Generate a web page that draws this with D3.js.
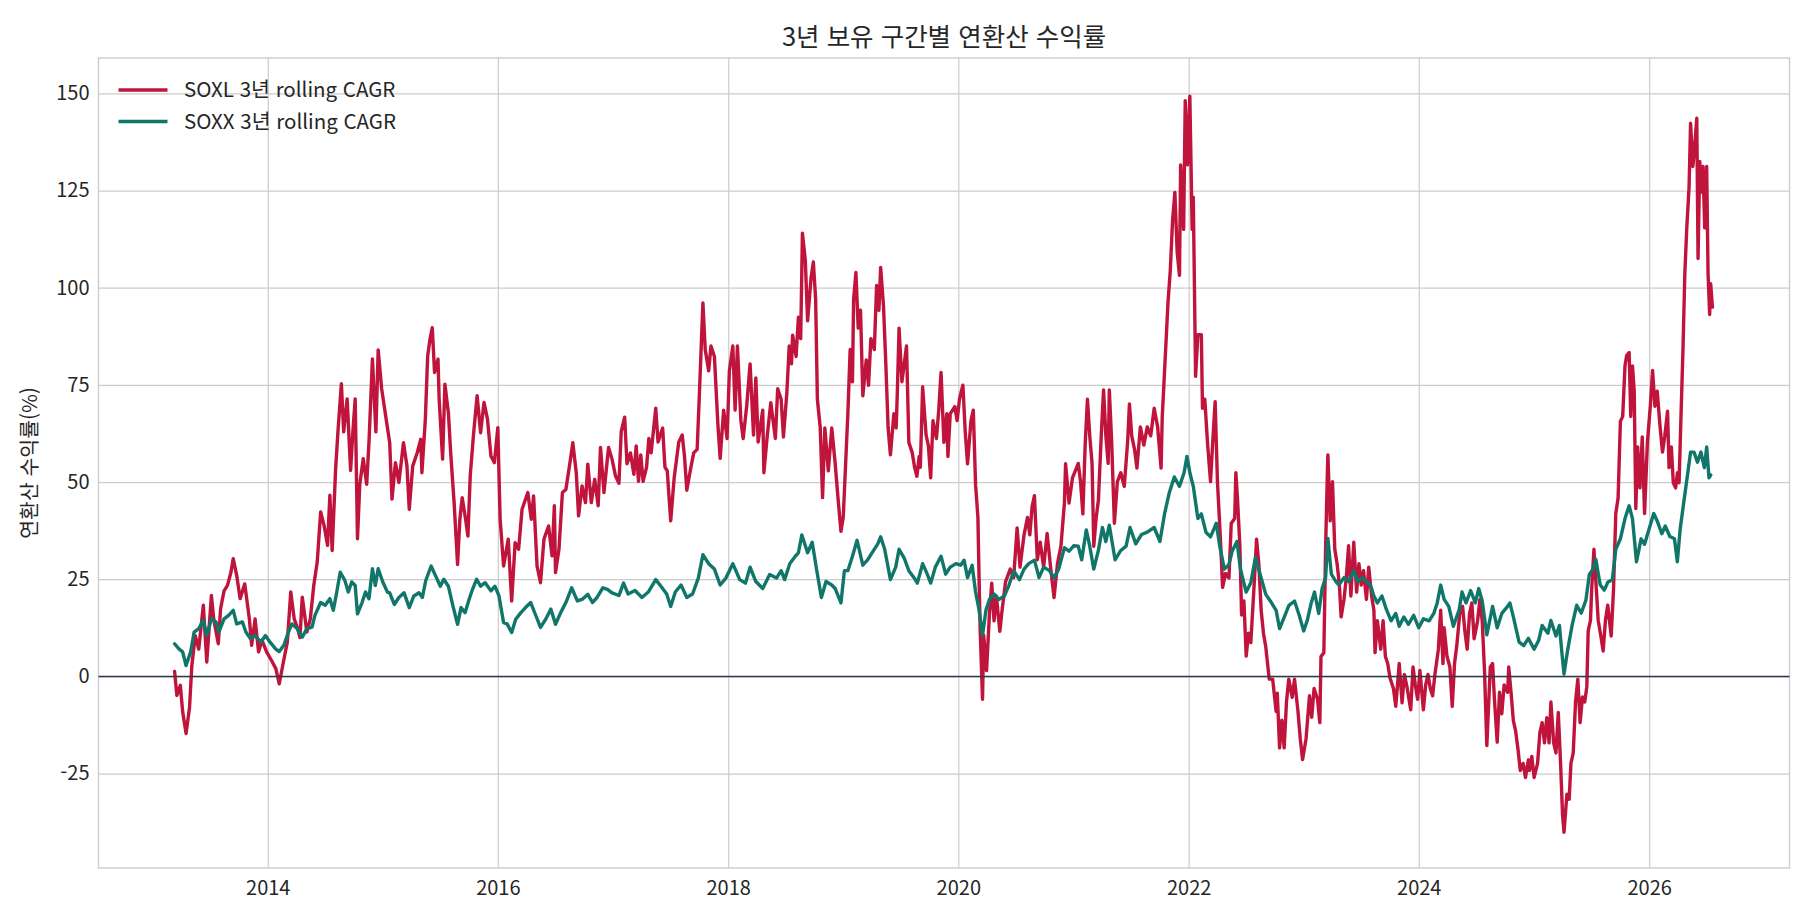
<!DOCTYPE html>
<html lang="ko">
<head>
  <meta charset="UTF-8">
  <title>3년 보유 구간별 연환산 수익률</title>
  <script src="https://d3js.org/d3.v7.min.js"></script>
  <style>
    body { margin: 0; background: #fff; }
    svg text { font-family: "Noto Sans CJK KR", "Noto Sans", sans-serif; fill: #262626; }
  </style>
</head>
<body>
  <div id="root"></div>
  <script>
    // [decimal year, 3y rolling CAGR %]
    const soxl = [
      [2013.19,1.3],[2013.21,-4.9],[2013.24,-2.3],[2013.26,-9],[2013.29,-14.7],[2013.32,-8],[2013.34,2.8],[2013.37,10.5],[2013.40,7],[2013.44,18.3],[2013.47,3.7],[2013.51,20.8],[2013.53,14.8],[2013.57,8.4],[2013.59,17.4],[2013.62,22],[2013.65,23.4],[2013.68,26.8],[2013.70,30.3],[2013.73,26],[2013.76,20],[2013.80,23.8],[2013.84,14.8],[2013.86,8],[2013.89,14.8],[2013.92,6.3],[2013.95,9.3],[2013.99,6.3],
      [2014.04,3.7],[2014.07,2],[2014.10,-1.9],[2014.13,2.8],[2014.17,8.8],[2014.20,21.7],[2014.23,14.8],[2014.26,12.3],[2014.28,10],[2014.30,20.4],[2014.34,11.4],[2014.37,14.8],[2014.40,23.4],[2014.43,29.4],[2014.46,42.3],[2014.49,38.8],[2014.52,33.7],[2014.54,46.6],[2014.56,32.4],[2014.59,53.4],[2014.61,62.9],[2014.64,75.3],[2014.66,62.9],[2014.69,71.4],[2014.72,53],[2014.74,62.9],[2014.76,71.4],[2014.78,35.4],[2014.80,49.4],[2014.83,56],[2014.86,49.4],[2014.88,60.3],[2014.91,81.7],[2014.94,62.9],[2014.96,84],[2014.99,74],[2015.02,68],
      [2015.06,60.1],[2015.08,45.6],[2015.11,55],[2015.14,49.9],[2015.18,60.1],[2015.21,54.1],[2015.23,43],[2015.26,54.1],[2015.30,57.6],[2015.33,61],[2015.34,52.4],[2015.37,66.2],[2015.39,82.4],[2015.41,86.7],[2015.43,89.7],[2015.45,78.2],[2015.48,81.6],[2015.49,71.3],[2015.52,55.9],[2015.54,75.2],[2015.57,67.9],[2015.59,57.6],[2015.62,44.7],[2015.65,28.8],[2015.67,40.4],[2015.69,46],[2015.72,40.4],[2015.74,36.1],[2015.76,51.6],[2015.79,62.7],[2015.82,72.2],[2015.85,62.7],[2015.88,70.5],[2015.91,66.2],[2015.94,56.7],[2015.97,55],
      [2016.00,64],[2016.02,40.4],[2016.05,28.4],[2016.09,35.3],[2016.12,19.4],[2016.15,34.4],[2016.18,32.7],[2016.21,43],[2016.26,47.3],[2016.29,40.4],[2016.31,46.4],[2016.34,28.4],[2016.37,24.1],[2016.40,35.3],[2016.44,38.7],[2016.47,31],[2016.49,43.9],[2016.50,26.7],[2016.53,32.7],[2016.56,47.3],[2016.59,48.1],[2016.63,55.9],[2016.65,60.1],[2016.68,52.4],[2016.70,41.3],[2016.73,49],[2016.76,44.7],[2016.78,54.6],[2016.81,44.7],[2016.84,50.7],[2016.87,43.9],[2016.89,58.9],[2016.92,47.3],[2016.96,58.9],[2016.99,55.9],[2017.02,51.6],
      [2017.05,49.7],[2017.07,63],[2017.10,66.7],[2017.12,54.7],[2017.15,57.5],[2017.18,52],[2017.20,59.3],[2017.22,50.2],[2017.24,57],[2017.26,50.2],[2017.29,53.8],[2017.31,61.2],[2017.33,57.5],[2017.37,69],[2017.39,60.3],[2017.43,63.9],[2017.45,53.8],[2017.47,52.9],[2017.50,40],[2017.53,51],[2017.57,60.3],[2017.60,62.1],[2017.62,56.6],[2017.64,47.9],[2017.67,52.9],[2017.70,57.5],[2017.73,58.4],[2017.75,73.1],[2017.78,96.1],[2017.80,84.1],[2017.83,78.6],[2017.85,85],[2017.88,82.3],[2017.91,64.9],[2017.93,56.1],[2017.96,68.5],[2017.99,61.2],
      [2018.01,78.6],[2018.04,85],[2018.06,68.5],[2018.08,85],[2018.11,65.8],[2018.13,61.2],[2018.16,69.4],[2018.19,80.4],[2018.22,62.1],[2018.24,76.8],[2018.26,60.3],[2018.30,68.5],[2018.31,52.4],[2018.34,62.1],[2018.37,70.4],[2018.41,61.2],[2018.43,74],[2018.46,71.3],[2018.48,61.6],[2018.51,73.1],[2018.53,85],[2018.55,80.4],[2018.56,87.8],[2018.59,82.3],[2018.61,92.4],[2018.63,86.9],[2018.645,114],[2018.67,107.1],[2018.69,91.5],[2018.72,102.5],[2018.74,106.6],[2018.76,97],[2018.775,71.3],[2018.80,63.9],[2018.82,46],[2018.84,63.9],[2018.87,52.9],[2018.90,63.9],[2018.93,54.7],[2018.955,45.6],[2018.98,37.3],[2019.00,41],
      [2019.04,67.6],[2019.06,84.1],[2019.08,75.8],[2019.09,97],[2019.11,103.9],[2019.13,89.6],[2019.15,94.2],[2019.17,72.2],[2019.20,81.4],[2019.22,74.9],[2019.24,86.9],[2019.27,84.1],[2019.29,100.6],[2019.31,94.2],[2019.325,105.2],[2019.35,95.2],[2019.37,80.4],[2019.39,63.9],[2019.41,57],[2019.44,67.6],[2019.46,63.9],[2019.47,73.1],[2019.485,89.6],[2019.51,75.8],[2019.53,80.4],[2019.55,85],[2019.57,60.2],[2019.60,57.5],[2019.62,53.8],[2019.64,51.5],[2019.66,56.6],[2019.67,53.8],[2019.69,74.5],[2019.72,62.1],[2019.74,59.3],[2019.76,51.1],[2019.78,65.8],[2019.81,61.2],[2019.83,68.5],[2019.85,78.2],[2019.875,60.2],[2019.90,67.6],[2019.91,56.6],[2019.93,67.6],[2019.97,69.4],[2019.99,65.8],
      [2020.01,71.3],[2020.04,74.9],[2020.06,63],[2020.08,54.7],[2020.11,65.8],[2020.13,68.5],[2020.15,49.2],[2020.17,40.9],[2020.18,25.4],[2020.19,11.6],[2020.21,-5.9],[2020.22,10.6],[2020.245,1.5],[2020.27,16.1],[2020.29,24],[2020.31,14.3],[2020.33,20.7],[2020.36,11.6],[2020.38,17.1],[2020.41,24.4],[2020.45,27.6],[2020.48,25.4],[2020.51,38.2],[2020.535,28.1],[2020.57,36.4],[2020.60,40.9],[2020.62,36.4],[2020.64,43.7],[2020.66,46.5],[2020.685,30],[2020.71,34.5],[2020.74,28.1],[2020.77,36.8],[2020.80,28.1],[2020.83,20.3],[2020.86,29],[2020.89,33.6],[2020.92,44.6],[2020.93,54.7],[2020.96,44.6],[2020.99,51.1],
      [2021.04,54.8],[2021.06,50.1],[2021.08,41.8],[2021.10,59.5],[2021.12,71.3],[2021.14,61.9],[2021.16,54.8],[2021.175,33.5],[2021.195,40.6],[2021.215,45.3],[2021.24,61.9],[2021.26,73.7],[2021.28,61.9],[2021.30,54.8],[2021.31,73.7],[2021.33,60.7],[2021.354,39.4],[2021.38,50.1],[2021.41,52.4],[2021.44,48.9],[2021.47,60.7],[2021.485,70.1],[2021.505,61.9],[2021.53,58.3],[2021.55,53.6],[2021.58,64.2],[2021.61,59.5],[2021.64,64.2],[2021.67,61.9],[2021.70,69],[2021.73,64.2],[2021.76,53.6],[2021.77,66.6],[2021.79,78.4],[2021.82,96.1],[2021.84,104.4],[2021.86,117.4],[2021.88,124.5],[2021.90,109.1],[2021.92,103.2],[2021.93,131.6],[2021.956,115],[2021.97,148.1],[2021.99,131.6],
      [2022.01,149.3],[2022.03,115],[2022.04,123.3],[2022.06,77.2],[2022.08,87.9],[2022.11,87.9],[2022.12,69],[2022.14,71.3],[2022.165,59.5],[2022.19,50.1],[2022.21,60.7],[2022.23,70.7],[2022.25,50.1],[2022.275,35.9],[2022.295,22.9],[2022.32,26.5],[2022.35,25.3],[2022.37,39.4],[2022.40,40.6],[2022.41,52.4],[2022.425,45.3],[2022.445,33.5],[2022.46,15.8],[2022.48,19.4],[2022.50,5.2],[2022.52,11.1],[2022.54,8.7],[2022.57,24.1],[2022.59,35.3],[2022.61,28.8],[2022.63,17],[2022.65,11.1],[2022.67,7.6],[2022.70,-0.7],[2022.73,-0.7],[2022.76,-9],[2022.77,-4.3],[2022.79,-18.4],[2022.81,-11.3],[2022.83,-18.4],[2022.85,-6.6],[2022.87,-0.7],[2022.90,-5.4],[2022.92,-0.7],[2022.95,-9],[2022.97,-16.1],[2022.99,-21.4],[2023.02,-16.1],
      [2023.05,-5],[2023.07,-10.5],[2023.09,-3.1],[2023.12,-5.9],[2023.14,-11.9],[2023.15,5.1],[2023.175,6.1],[2023.19,32.7],[2023.20,45.6],[2023.21,57],[2023.23,40],[2023.25,50.1],[2023.27,32.7],[2023.29,29],[2023.31,23.5],[2023.325,15.3],[2023.35,19.8],[2023.37,25.4],[2023.39,33.6],[2023.41,20.7],[2023.435,34.5],[2023.46,21.7],[2023.48,29],[2023.50,23.5],[2023.52,27.2],[2023.545,19.8],[2023.565,28.1],[2023.59,20.7],[2023.61,17],[2023.62,6.1],[2023.64,14.3],[2023.67,7],[2023.69,14.3],[2023.71,5.1],[2023.73,3.3],[2023.75,-0.4],[2023.78,-3.1],[2023.80,-7.7],[2023.82,-0.4],[2023.83,3.3],[2023.855,-6.8],[2023.875,0.5],[2023.90,-3.1],[2023.93,-8.6],[2023.95,2.4],[2023.97,-2.2],[2023.99,-5.9],
      [2024.01,1.5],[2024.04,-8.6],[2024.06,-2.2],[2024.08,0.5],[2024.10,-3.1],[2024.12,-5],[2024.14,0.5],[2024.17,7],[2024.19,17],[2024.21,3.3],[2024.22,12.5],[2024.245,5.1],[2024.27,2.4],[2024.29,-7.7],[2024.31,3.3],[2024.33,8],[2024.355,16.1],[2024.38,18],[2024.40,11.6],[2024.42,7],[2024.44,16.1],[2024.46,18.9],[2024.48,9.7],[2024.51,14.3],[2024.53,19.8],[2024.55,14.3],[2024.57,1.5],[2024.59,-17.8],[2024.62,2.4],[2024.64,3.3],[2024.656,-5.9],[2024.68,-16.9],[2024.70,-4.1],[2024.72,-9.6],[2024.74,-2.2],[2024.77,-4.1],[2024.78,2.4],[2024.80,-4.1],[2024.82,-11.4],[2024.84,-14.1],[2024.86,-18.7],[2024.88,-24.2],[2024.905,-22.4],[2024.925,-26],[2024.95,-21.5],[2024.96,-24.2],[2024.98,-20.6],[2025.00,-26],[2025.03,-22.4],
      [2025.05,-14.5],[2025.07,-11.9],[2025.09,-17.1],[2025.11,-10.6],[2025.13,-17.1],[2025.146,-6.6],[2025.17,-17.1],[2025.19,-19.7],[2025.21,-9.3],[2025.23,-22.4],[2025.247,-35.5],[2025.26,-40.1],[2025.285,-30.3],[2025.305,-31.6],[2025.32,-22.4],[2025.34,-19.7],[2025.36,-6.6],[2025.38,-0.7],[2025.40,-11.9],[2025.42,-5.3],[2025.44,-6.6],[2025.458,-2.7],[2025.47,11.7],[2025.49,14.4],[2025.50,22.2],[2025.52,32.7],[2025.536,24.9],[2025.557,14.4],[2025.58,10.4],[2025.60,6.5],[2025.62,14.4],[2025.64,18.3],[2025.67,10.4],[2025.69,22.2],[2025.71,41.9],[2025.73,45.9],[2025.75,65.6],[2025.77,66.9],[2025.79,79.9],[2025.805,82.6],[2025.826,83.3],[2025.84,66.9],[2025.855,79.9],[2025.87,73.4],[2025.884,43.2],[2025.90,59],[2025.92,48.5],[2025.94,61.6],[2025.96,41.9],[2025.985,60.3],
      [2026.01,69.5],[2026.03,78.7],[2026.05,69.5],[2026.07,73.4],[2026.095,64.2],[2026.116,57.7],[2026.135,61.6],[2026.16,68.2],[2026.173,53.7],[2026.193,59],[2026.21,49.8],[2026.23,48.5],[2026.246,52.4],[2026.26,49.8],[2026.274,64.2],[2026.295,85.2],[2026.31,103.6],[2026.327,115.4],[2026.347,125.9],[2026.36,142.3],[2026.38,131.2],[2026.396,136.4],[2026.414,143.6],[2026.425,107.5],[2026.44,132.5],[2026.454,124.6],[2026.468,131.2],[2026.483,115.4],[2026.50,131.2],[2026.512,103.6],[2026.526,93.1],[2026.535,101],[2026.55,95]
    ]

    const soxx = [
      [2013.19,8.4],[2013.23,7],[2013.26,6.3],[2013.29,2.8],[2013.33,6.3],[2013.36,11.4],[2013.40,12.3],[2013.44,14.4],[2013.47,10.5],[2013.51,14.8],[2013.55,14],[2013.575,11.4],[2013.62,14.8],[2013.66,15.7],[2013.70,17],[2013.73,13.5],[2013.78,14],[2013.81,11.4],[2013.85,9.7],[2013.89,10.5],[2013.94,8.8],[2013.98,10.5],
      [2014.02,8.8],[2014.07,7],[2014.10,6.4],[2014.14,8],[2014.18,11.4],[2014.21,13.5],[2014.255,12.3],[2014.30,10.1],[2014.34,12.3],[2014.385,12.7],[2014.41,15.7],[2014.46,19],[2014.50,18.3],[2014.54,20],[2014.57,17],[2014.60,21.7],[2014.63,26.8],[2014.67,24.7],[2014.70,21.7],[2014.73,24.3],[2014.76,23.4],[2014.78,16.1],[2014.82,19],[2014.85,21.7],[2014.88,20],[2014.91,27.7],[2014.935,23.4],[2014.96,27.7],[2015.00,24.3],[2015.04,21.7],
      [2015.06,21.5],[2015.10,18.5],[2015.14,20.3],[2015.185,21.5],[2015.23,17.7],[2015.27,20.7],[2015.315,21.5],[2015.344,20.3],[2015.373,24.6],[2015.42,28.4],[2015.46,25.8],[2015.50,23.2],[2015.53,25],[2015.57,23.2],[2015.61,18.1],[2015.65,13.4],[2015.68,17.7],[2015.715,16.4],[2015.75,19.8],[2015.78,22.4],[2015.816,25],[2015.85,23.2],[2015.89,24.1],[2015.94,22],[2015.975,23.2],
      [2016.01,20.7],[2016.05,13.8],[2016.08,13.5],[2016.12,11.3],[2016.155,14.7],[2016.20,16.4],[2016.24,17.7],[2016.285,19],[2016.33,15.6],[2016.37,12.6],[2016.415,14.7],[2016.46,17.3],[2016.50,13.4],[2016.545,16.4],[2016.59,19],[2016.64,22.8],[2016.69,19.4],[2016.73,19.8],[2016.78,21.1],[2016.82,19],[2016.86,20.3],[2016.91,22.8],[2016.95,22.4],[2016.99,21.5],
      [2017.05,20.8],[2017.09,24],[2017.13,21.2],[2017.19,22.1],[2017.25,20.3],[2017.305,21.7],[2017.37,24.9],[2017.42,23],[2017.465,21.2],[2017.50,18],[2017.54,21.7],[2017.59,23.5],[2017.64,20.3],[2017.69,21.2],[2017.74,25.3],[2017.78,31.3],[2017.83,29],[2017.88,27.6],[2017.93,23.5],[2017.98,25.3],
      [2018.04,29],[2018.10,24.9],[2018.15,24],[2018.19,28.1],[2018.24,24.4],[2018.30,22.6],[2018.36,26.2],[2018.42,25.3],[2018.46,27.2],[2018.49,24.9],[2018.535,29],[2018.58,30.8],[2018.61,31.8],[2018.64,36.4],[2018.69,31.8],[2018.73,34.5],[2018.77,27.2],[2018.81,20.3],[2018.85,24.4],[2018.90,23.5],[2018.93,22.6],[2018.98,18.9],[2019.01,27.2],
      [2019.04,27.2],[2019.08,30.9],[2019.12,35],[2019.17,28.6],[2019.21,29.9],[2019.25,31.8],[2019.30,34.1],[2019.325,35.9],[2019.36,32.7],[2019.41,24.9],[2019.456,28.1],[2019.485,32.7],[2019.53,30.4],[2019.57,27.2],[2019.615,25.4],[2019.644,24],[2019.69,29],[2019.73,26.3],[2019.76,24],[2019.80,28.1],[2019.85,30.9],[2019.89,26.3],[2019.93,28.1],[2019.98,29],
      [2020.02,28.6],[2020.05,29.9],[2020.08,25.4],[2020.12,28.6],[2020.15,21.7],[2020.18,17.1],[2020.21,10.6],[2020.24,17.1],[2020.27,19.8],[2020.31,21.2],[2020.35,19.8],[2020.40,20.7],[2020.44,23.5],[2020.48,27.2],[2020.53,24.9],[2020.57,27.6],[2020.61,29],[2020.66,29.9],[2020.70,25.4],[2020.74,28.1],[2020.79,27.2],[2020.83,25.4],[2020.87,27.6],[2020.92,33.1],[2020.96,32.2],[2021.00,33.6],
      [2021.04,33.5],[2021.07,30],[2021.11,37.7],[2021.14,33.5],[2021.175,27.6],[2021.215,32.4],[2021.25,38.3],[2021.28,34.7],[2021.31,38.9],[2021.36,30],[2021.41,32.4],[2021.456,33.5],[2021.49,38.3],[2021.54,34.1],[2021.59,36.5],[2021.64,37.1],[2021.70,38.3],[2021.75,34.7],[2021.79,41.8],[2021.83,47.1],[2021.875,51.3],[2021.92,48.9],[2021.96,52.4],[2021.985,56.6],
      [2022.01,52.4],[2022.04,48.9],[2022.08,40.6],[2022.11,41.8],[2022.15,37.1],[2022.19,35.9],[2022.24,39.4],[2022.27,33.5],[2022.31,27.6],[2022.35,28.8],[2022.38,32.4],[2022.42,34.7],[2022.45,27.6],[2022.50,21.7],[2022.54,24.1],[2022.58,30.6],[2022.63,25.3],[2022.67,21.1],[2022.71,19.4],[2022.76,17],[2022.79,12.3],[2022.83,15.2],[2022.87,18.2],[2022.92,19.4],[2022.96,15.8],[2023.00,11.7],
      [2023.03,14.3],[2023.065,18.9],[2023.094,21.7],[2023.13,16.2],[2023.16,22.6],[2023.19,25.4],[2023.21,35.5],[2023.24,26.3],[2023.28,24.4],[2023.305,23.5],[2023.35,25.4],[2023.39,24.4],[2023.435,27.2],[2023.47,24.4],[2023.51,25.4],[2023.545,24.4],[2023.58,23.5],[2023.61,20.7],[2023.64,18.9],[2023.68,20.7],[2023.72,17.1],[2023.76,14.3],[2023.80,16.2],[2023.83,12.9],[2023.87,15.3],[2023.91,13.4],[2023.956,15.7],
      [2024.00,12.5],[2024.04,14.8],[2024.09,14.3],[2024.13,16.2],[2024.16,18.9],[2024.19,23.5],[2024.22,19.8],[2024.26,18],[2024.30,12.9],[2024.35,17.1],[2024.375,21.7],[2024.41,18.9],[2024.45,22.1],[2024.49,18.9],[2024.52,22.6],[2024.55,19.4],[2024.59,10.7],[2024.64,18],[2024.68,12.5],[2024.72,16.2],[2024.77,18],[2024.79,18.9],[2024.82,15.3],[2024.87,8.8],[2024.91,7.9],[2024.95,9.8],[2025.00,7],[2025.04,9.3],
      [2025.07,13.1],[2025.12,11.1],[2025.146,14.4],[2025.19,10.4],[2025.22,13.1],[2025.24,6.5],[2025.26,0.6],[2025.29,6.5],[2025.33,13.1],[2025.37,18.3],[2025.41,16.3],[2025.45,19.6],[2025.48,26.2],[2025.51,27.5],[2025.536,30.1],[2025.574,23.6],[2025.61,22.2],[2025.64,24.2],[2025.68,24.9],[2025.71,32.7],[2025.75,35.4],[2025.79,40.6],[2025.826,43.9],[2025.855,40.6],[2025.89,29.5],[2025.93,35.4],[2025.96,34],
      [2026.00,38],[2026.04,41.9],[2026.07,40],[2026.11,36.7],[2026.14,38.7],[2026.18,36],[2026.22,35.4],[2026.245,29.5],[2026.27,38],[2026.30,44.6],[2026.33,51.1],[2026.36,57.7],[2026.39,57.7],[2026.42,55.1],[2026.45,57.7],[2026.48,53.7],[2026.50,59],[2026.52,51.1],[2026.535,51.8]
    ]

    const seriesNames = ['SOXL 3년 rolling CAGR', 'SOXX 3년 rolling CAGR']
    const seriesColors = ['#c0143c', '#11766a']
    const yTicks = [-25, 0, 25, 50, 75, 100, 125, 150]
    const xTickYears = [2014, 2016, 2018, 2020, 2022, 2024, 2026]
    const title = '3년 보유 구간별 연환산 수익률'
    const yLabel = '연환산 수익률(%)'

    const dimensions = {
      width: 1815,
      height: 923,
      margin: { top: 58, right: 25.5, bottom: 55, left: 98.5 }
    }
    dimensions.boundedWidth = dimensions.width - dimensions.margin.left - dimensions.margin.right
    dimensions.boundedHeight = dimensions.height - dimensions.margin.top - dimensions.margin.bottom

    // decimal year -> Date
    const toDate = y => {
      const yr = Math.floor(y)
      const start = new Date(yr, 0, 1), end = new Date(yr + 1, 0, 1)
      return new Date(+start + (y - yr) * (end - start))
    }

    const data = [soxl, soxx].map((pts, i) => ({
      name: seriesNames[i],
      color: seriesColors[i],
      values: pts.map(d => ({ date: toDate(d[0]), value: d[1] }))
    }))

    const wrapper = d3.select('#root')
      .append('svg')
        .attr('width', dimensions.width)
        .attr('height', dimensions.height)

    const bounds = wrapper.append('g')
      .attr('transform', `translate(${dimensions.margin.left}, ${dimensions.margin.top})`)

    const xScale = d3.scaleTime()
      .domain([toDate(2012.53), toDate(2027.22)])
      .range([0, dimensions.boundedWidth])

    const yScale = d3.scaleLinear()
      .domain([-49.3, 159.1])
      .range([dimensions.boundedHeight, 0])

    // grid + axes
    const xAxis = bounds.append('g')
      .attr('transform', `translate(0, ${dimensions.boundedHeight})`)
      .call(d3.axisBottom(xScale)
        .tickValues(xTickYears.map(y => new Date(y, 0, 1)))
        .tickFormat(d3.timeFormat('%Y'))
        .tickSize(-dimensions.boundedHeight)
        .tickPadding(13))
    const yAxis = bounds.append('g')
      .call(d3.axisLeft(yScale)
        .tickValues(yTicks)
        .tickFormat(d => String(d)) // plain hyphen minus, like the source
        .tickSize(-dimensions.boundedWidth)
        .tickPadding(9))

    for (const ax of [xAxis, yAxis]) {
      ax.select('.domain').remove()
      ax.selectAll('line').attr('stroke', '#cccccc').attr('stroke-width', 1.2)
      ax.selectAll('text').style('font-size', '20px').attr('fill', '#262626')
    }

    bounds.append('rect')
      .attr('width', dimensions.boundedWidth)
      .attr('height', dimensions.boundedHeight)
      .attr('fill', 'none')
      .attr('stroke', '#cccccc')
      .attr('stroke-width', 1.4)

    bounds.append('clipPath').attr('id', 'clip')
      .append('rect')
        .attr('width', dimensions.boundedWidth)
        .attr('height', dimensions.boundedHeight)

    const lineGenerator = d3.line()
      .x(d => xScale(d.date))
      .y(d => yScale(d.value))

    bounds.append('g')
      .attr('clip-path', 'url(#clip)')
      .selectAll('path')
      .data(data)
      .join('path')
        .attr('d', d => lineGenerator(d.values))
        .attr('fill', 'none')
        .attr('stroke', d => d.color)
        .attr('stroke-width', 3.4)
        .attr('stroke-linejoin', 'round')
        .attr('stroke-linecap', 'round')

    // zero line
    bounds.append('line')
      .attr('x1', 0)
      .attr('x2', dimensions.boundedWidth)
      .attr('y1', yScale(0))
      .attr('y2', yScale(0))
      .attr('stroke', '#2e3a4b')
      .attr('stroke-width', 1.5)

    // legend
    const legend = bounds.append('g')
      .attr('transform', 'translate(20, 32)')
    const legendItem = legend.selectAll('g')
      .data(data)
      .join('g')
        .attr('transform', (d, i) => `translate(0, ${i * 31.5})`)
    legendItem.append('line')
      .attr('x1', 0).attr('x2', 49)
      .attr('stroke', d => d.color)
      .attr('stroke-width', 3.4)
    legendItem.append('text')
      .attr('x', 65.5)
      .attr('dy', '0.35em')
      .style('font-size', '20.5px')
      .text(d => d.name)

    wrapper.append('text')
      .attr('x', dimensions.margin.left + dimensions.boundedWidth / 2)
      .attr('y', 37)
      .attr('text-anchor', 'middle')
      .attr('dy', '0.35em')
      .style('font-size', '25.5px')
      .text(title)

    wrapper.append('text')
      .attr('transform', `translate(30, ${dimensions.margin.top + dimensions.boundedHeight / 2}) rotate(-90)`)
      .attr('text-anchor', 'middle')
      .attr('dy', '0.35em')
      .style('font-size', '20.5px')
      .text(yLabel)
  </script>
</body>
</html>
